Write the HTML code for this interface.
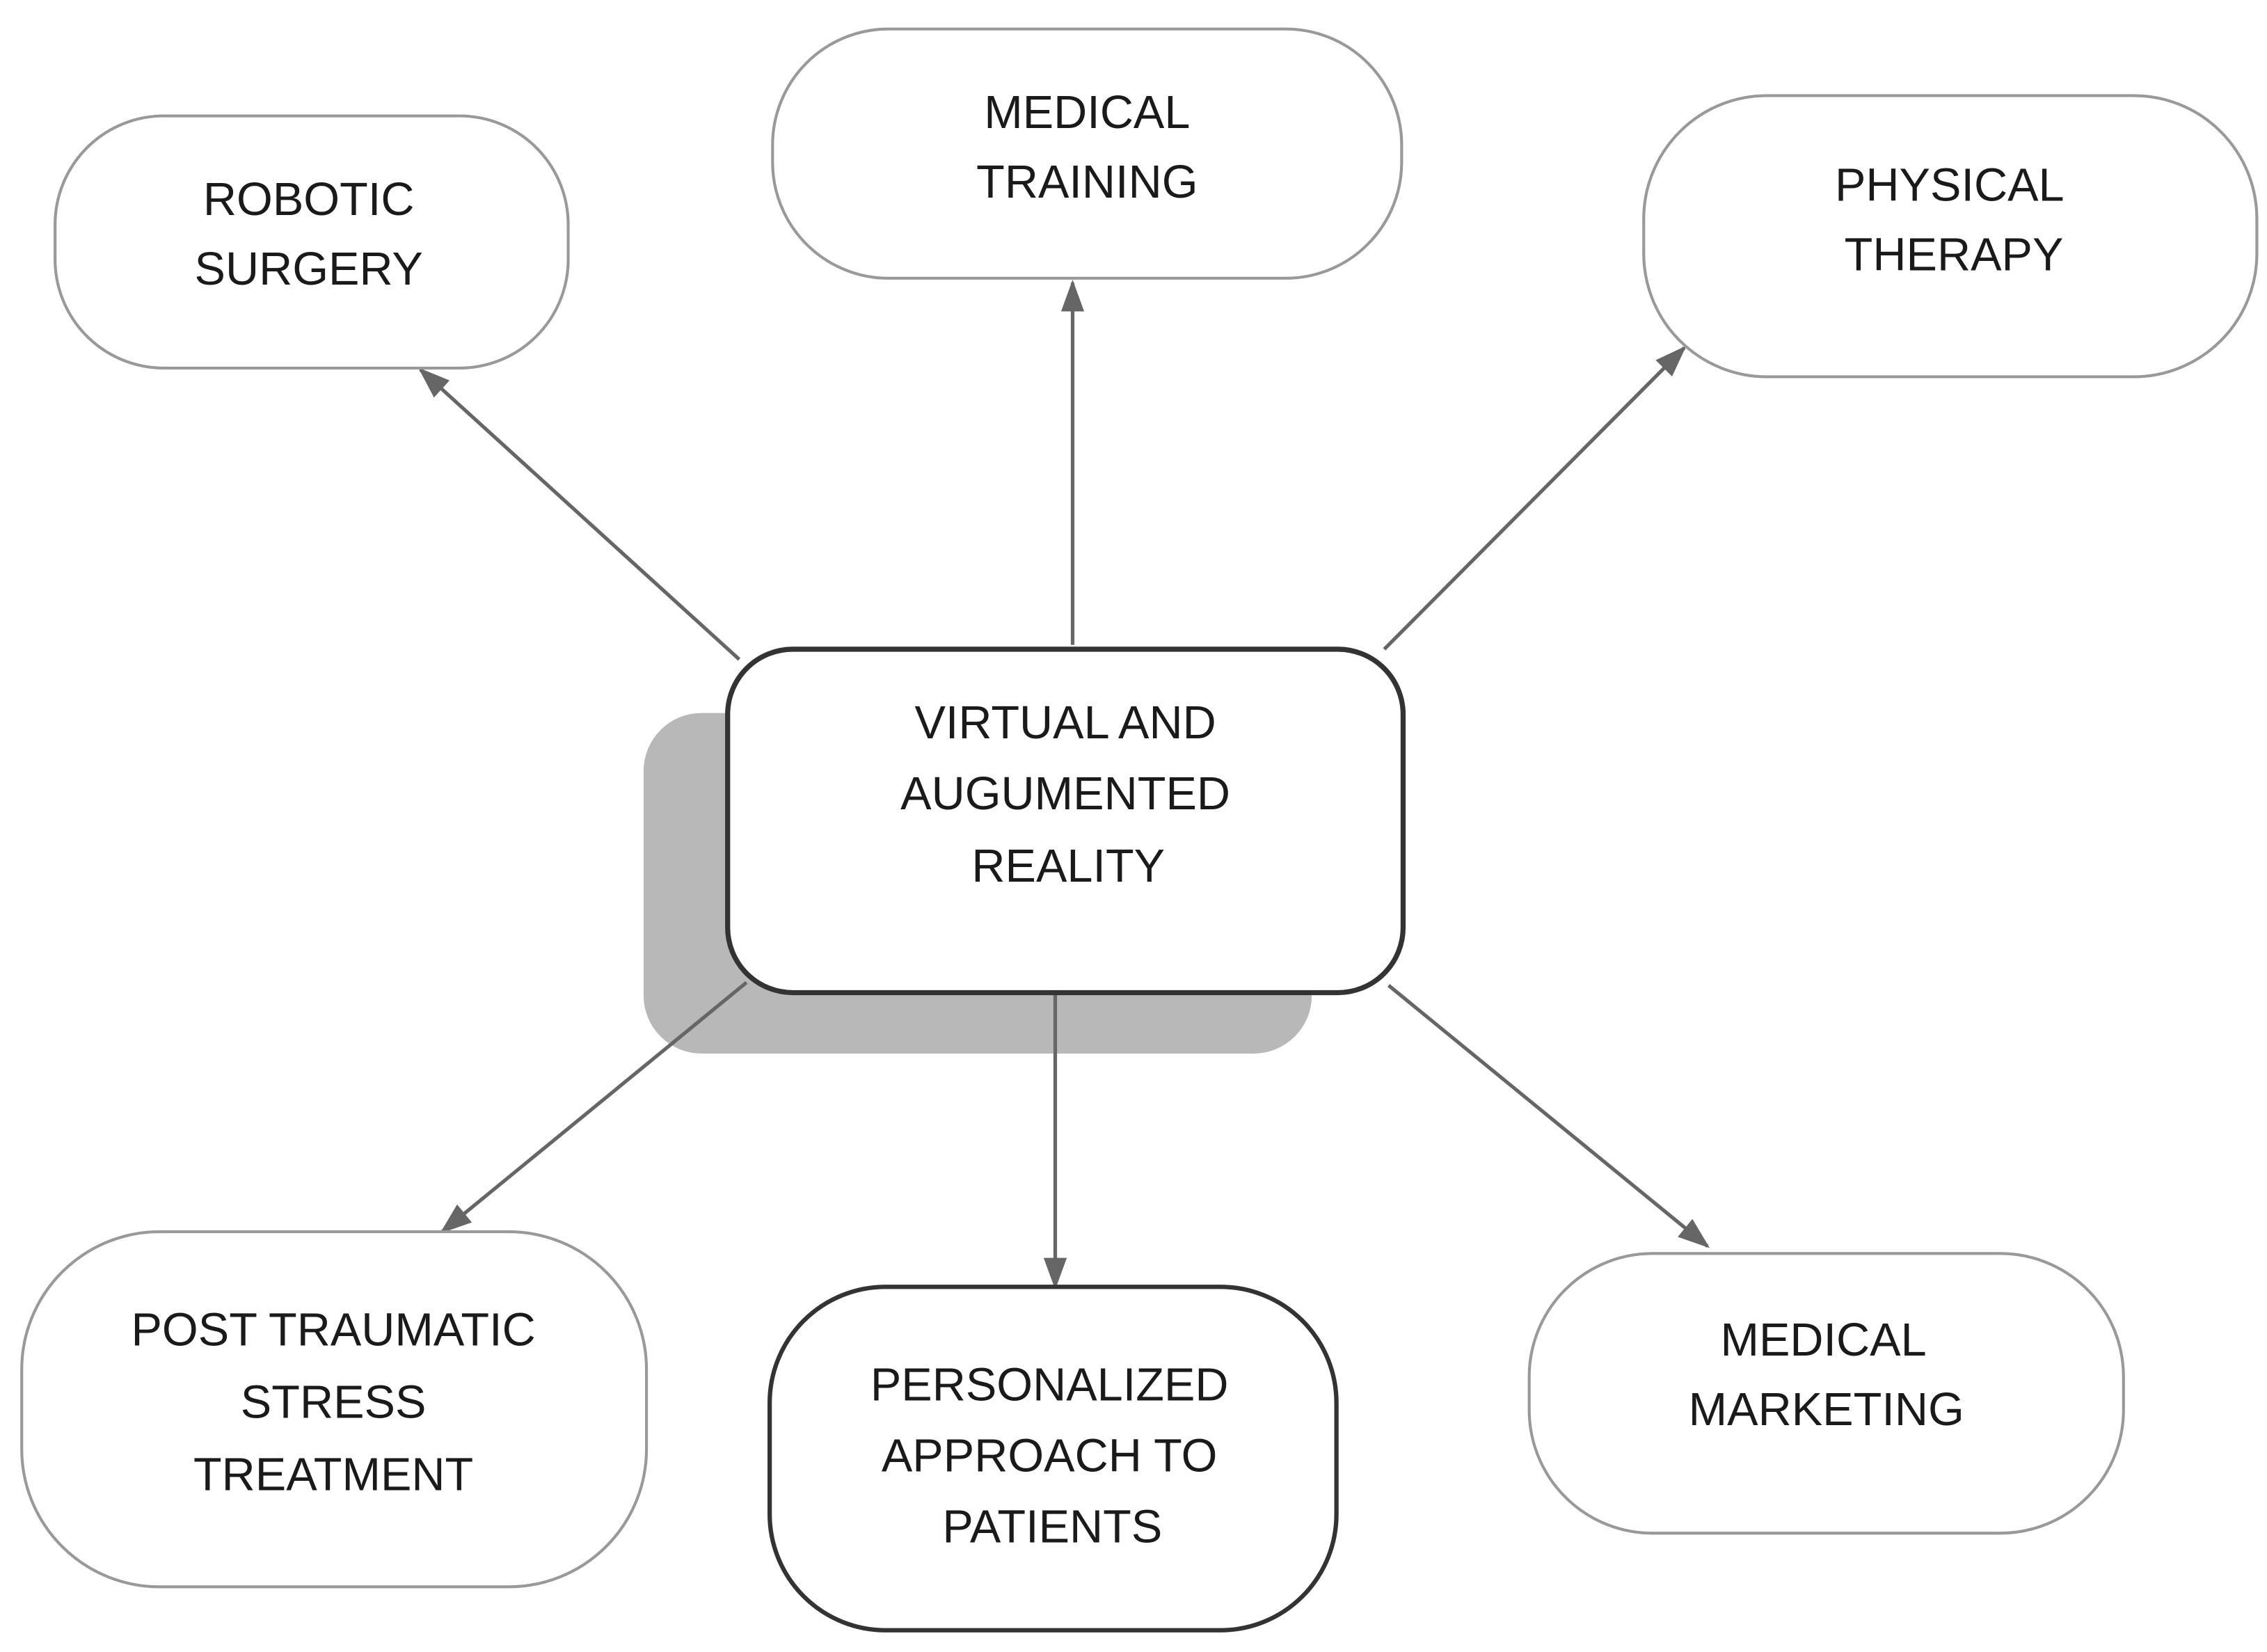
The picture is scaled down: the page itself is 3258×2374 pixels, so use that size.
<!DOCTYPE html>
<html><head><meta charset="utf-8"><style>
html,body{margin:0;padding:0;background:#fff;}
svg{display:block;}
text{font-family:"Liberation Sans",sans-serif;font-size:32px;fill:#1a1a1a;text-anchor:middle;dominant-baseline:middle;}
</style></head><body>
<svg width="3258" height="2374" viewBox="0 0 1564 1140" preserveAspectRatio="none" xmlns="http://www.w3.org/2000/svg">
<defs><marker id="a" markerWidth="10" markerHeight="10" refX="9" refY="5" orient="auto" markerUnits="userSpaceOnUse" viewBox="0 0 10 10"><path d="M0,0 L10,5 L0,10 z" fill="#666"/></marker>
<marker id="b" markerWidth="22" markerHeight="22" refX="20" refY="11" orient="auto" markerUnits="userSpaceOnUse" viewBox="0 0 22 22"><path d="M0,3 L22,11 L0,19 z" fill="#666"/></marker></defs>
<rect x="444" y="492" width="461" height="235" rx="40" fill="#b8b8b8"/>
<g stroke="#666" stroke-width="2.5" fill="none">
<line x1="510" y1="455" x2="290" y2="255" marker-end="url(#b)"/>
<line x1="740" y1="445" x2="740" y2="195" marker-end="url(#b)"/>
<line x1="955" y1="448" x2="1162" y2="240" marker-end="url(#b)"/>
<line x1="515" y1="678" x2="305" y2="850" marker-end="url(#b)"/>
<line x1="728" y1="686" x2="728" y2="888" marker-end="url(#b)"/>
<line x1="958" y1="680" x2="1178" y2="860" marker-end="url(#b)"/>
</g>
<g fill="#fff" stroke="#999" stroke-width="2">
<rect x="38" y="80" width="354" height="174" rx="75"/>
<rect x="533" y="20" width="434" height="172" rx="80"/>
<rect x="1134" y="66" width="423" height="194" rx="85"/>
<rect x="15" y="850" width="431" height="245" rx="95"/>
<rect x="1055" y="865" width="410" height="193" rx="85"/>
</g>
<rect x="502" y="448" width="466" height="237" rx="45" fill="#fff" stroke="#333" stroke-width="3.5"/>
<rect x="531" y="888" width="391" height="237" rx="80" fill="#fff" stroke="#333" stroke-width="3"/>
<text x="213" y="140">ROBOTIC</text><text x="213" y="188">SURGERY</text>
<text x="750" y="80">MEDICAL</text><text x="750" y="128">TRAINING</text>
<text x="1345" y="130">PHYSICAL</text><text x="1348" y="178">THERAPY</text>
<text x="735" y="501">VIRTUAL AND</text><text x="735" y="550">AUGUMENTED</text><text x="737" y="600">REALITY</text>
<text x="230" y="920">POST TRAUMATIC</text><text x="230" y="970">STRESS</text><text x="230" y="1020">TREATMENT</text>
<text x="724" y="958">PERSONALIZED</text><text x="724" y="1007">APPROACH TO</text><text x="726" y="1056">PATIENTS</text>
<text x="1258" y="927">MEDICAL</text><text x="1260" y="975">MARKETING</text>
</svg>
</body></html>
